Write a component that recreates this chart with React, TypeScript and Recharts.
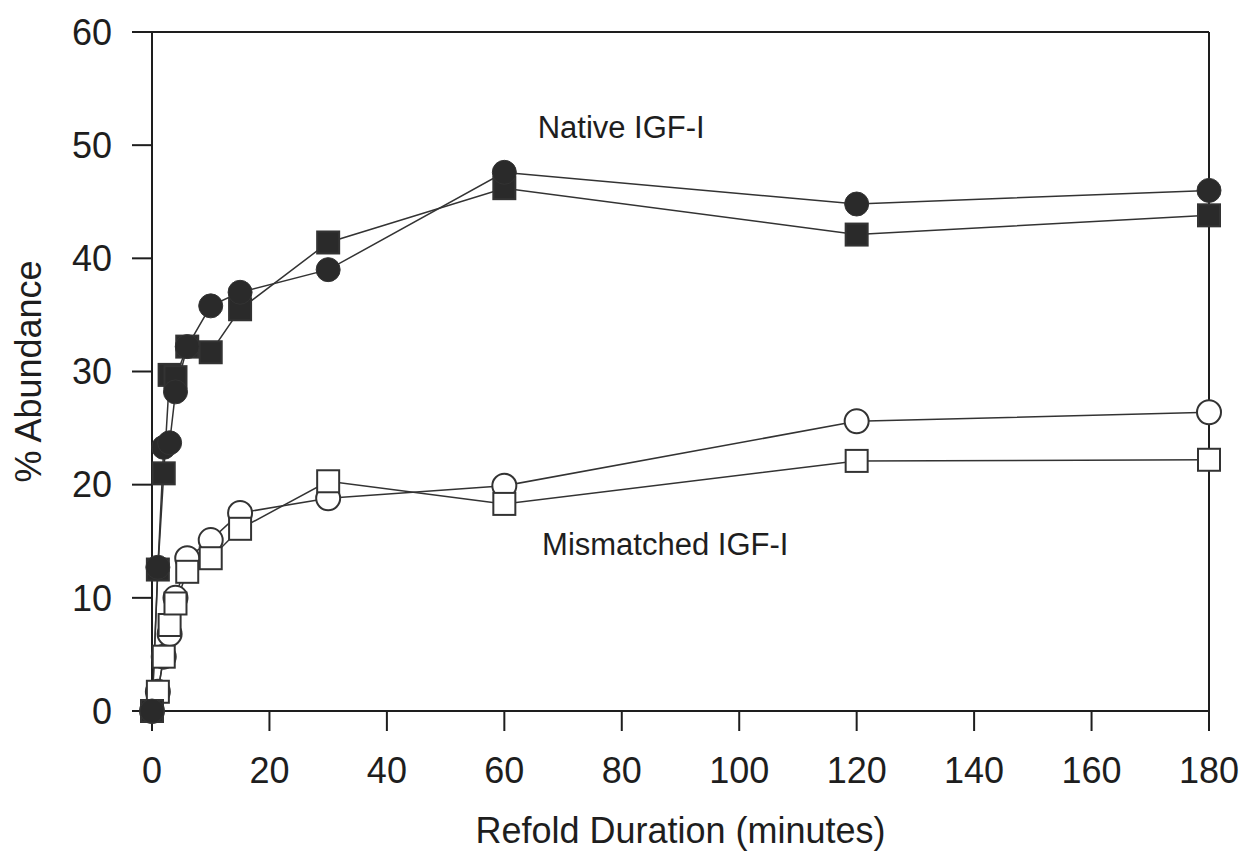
import React from 'react';
import { LineChart, Line, XAxis, YAxis, ReferenceLine, ReferenceDot, Label } from 'recharts';

// refold time points (minutes)
const times = [0, 1, 2, 3, 4, 6, 10, 15, 30, 60, 120, 180];

// native IGF-I, two runs (filled circle / filled square)
const nativeCircles = [0, 12.7, 23.3, 23.7, 28.2, 32.2, 35.8, 37.0, 39.0, 47.6, 44.8, 46.0];
const nativeSquares = [0, 12.5, 21.0, 29.7, 29.5, 32.2, 31.7, 35.5, 41.4, 46.2, 42.1, 43.8];

// mismatched IGF-I, two runs (open circle / open square)
const mismatchCircles = [0, 1.7, 4.8, 6.8, 10.0, 13.5, 15.1, 17.5, 18.8, 19.9, 25.6, 26.4];
const mismatchSquares = [0, 1.7, 4.8, 7.6, 9.5, 12.3, 13.5, 16.1, 20.3, 18.3, 22.1, 22.2];

const xTicks = [0, 20, 40, 60, 80, 100, 120, 140, 160, 180];
const yTicks = [0, 10, 20, 30, 40, 50, 60];

const rows = times.map((t, i) => ({
  t,
  nc: nativeCircles[i],
  ns: nativeSquares[i],
  mc: mismatchCircles[i],
  ms: mismatchSquares[i],
}));

const FONT = '"Liberation Sans", Arial, Helvetica, sans-serif';
const INK = '#1e1e1e';
const LINE = '#333';

function squareDot(fill: string) {
  return (props: any) => {
    const { cx, cy, index, dataKey } = props;
    if (cx == null || cy == null) return <g key={`${dataKey}-${index}`} />;
    return (
      <rect
        key={`${dataKey}-${index}`}
        x={cx - 11}
        y={cy - 11}
        width={22}
        height={22}
        fill={fill}
        stroke={LINE}
        strokeWidth={2}
      />
    );
  };
}

export default function App() {
  const tick = { fontSize: 36, fill: INK, fontFamily: FONT };
  return (
    <div style={{ position: 'absolute', left: 0, top: 0, width: 1247, height: 851, background: '#fff' }}>
      <LineChart width={1247} height={851} data={rows} margin={{ top: 32, right: 38, left: 0, bottom: 0 }}>
        <XAxis
          dataKey="t"
          type="number"
          domain={[0, 180]}
          ticks={xTicks}
          interval={0}
          height={140}
          tickSize={20}
          tickMargin={26}
          stroke={INK}
          strokeWidth={2}
          tick={tick}
        >
          <Label
            value="Refold Duration (minutes)"
            position="insideBottom"
            offset={8}
            fontSize={36}
            fill={INK}
            fontFamily={FONT}
          />
        </XAxis>
        <YAxis
          type="number"
          domain={[0, 60]}
          ticks={yTicks}
          interval={0}
          width={152}
          tickSize={20}
          tickMargin={20}
          stroke={INK}
          strokeWidth={2}
          tick={tick}
        >
          <Label
            value="% Abundance"
            angle={-90}
            position="insideLeft"
            offset={28}
            fontSize={36}
            fill={INK}
            fontFamily={FONT}
            style={{ textAnchor: 'middle' }}
          />
        </YAxis>

        {/* frame top & right */}
        <ReferenceLine y={60} stroke={INK} strokeWidth={2} />
        <ReferenceLine x={180} stroke={INK} strokeWidth={2} />

        <Line
          dataKey="mc"
          type="linear"
          stroke={LINE}
          strokeWidth={1.5}
          dot={{ r: 12, fill: '#fff', stroke: LINE, strokeWidth: 2 }}
          activeDot={false}
          isAnimationActive={false}
        />
        <Line
          dataKey="ms"
          type="linear"
          stroke={LINE}
          strokeWidth={1.5}
          dot={squareDot('#fff')}
          activeDot={false}
          isAnimationActive={false}
        />
        <Line
          dataKey="ns"
          type="linear"
          stroke={LINE}
          strokeWidth={1.5}
          dot={squareDot('#2a2a2a')}
          activeDot={false}
          isAnimationActive={false}
        />
        <Line
          dataKey="nc"
          type="linear"
          stroke={LINE}
          strokeWidth={1.5}
          dot={{ r: 12, fill: '#2a2a2a', stroke: LINE, strokeWidth: 1 }}
          activeDot={false}
          isAnimationActive={false}
        />

        <ReferenceDot x={79.9} y={51.6} r={0} fill="none" stroke="none">
          <Label value="Native IGF-I" position="center" fontSize={31} fill={INK} fontFamily={FONT} />
        </ReferenceDot>
        <ReferenceDot x={87.4} y={14.8} r={0} fill="none" stroke="none">
          <Label value="Mismatched IGF-I" position="center" fontSize={31} fill={INK} fontFamily={FONT} />
        </ReferenceDot>
      </LineChart>
    </div>
  );
}
